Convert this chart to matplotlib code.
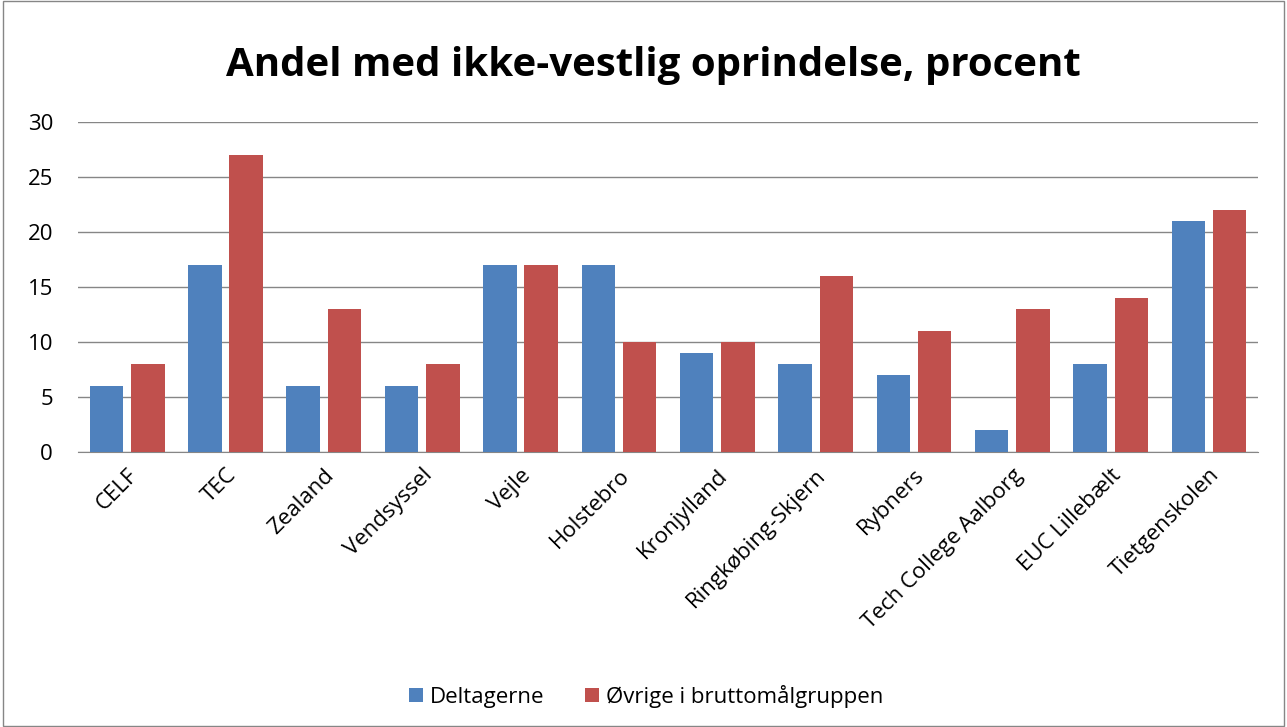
import numpy as np
import matplotlib.pyplot as plt
from matplotlib.patches import Rectangle

skoler = ['CELF', 'TEC', 'Zealand', 'Vendsyssel', 'Vejle', 'Holstebro', 'Kronjylland',
          'Ringkøbing-Skjern', 'Rybners', 'Tech College Aalborg', 'EUC Lillebælt', 'Tietgenskolen']
deltagerne = [6, 17, 6, 6, 17, 17, 9, 8, 7, 2, 8, 21]
oevrige = [8, 27, 13, 8, 17, 10, 10, 16, 11, 13, 14, 22]

plt.rcParams['font.family'] = ['Open Sans', 'DejaVu Sans']

fig = plt.figure(figsize=(12.87, 7.27), dpi=100)
ax = fig.add_axes([0.0606, 0.378, 0.917, 0.454])

x = np.arange(len(skoler))
ax.bar(x - 0.21, deltagerne, width=0.34, color='#4F81BD', label='Deltagerne', zorder=3)
ax.bar(x + 0.21, oevrige, width=0.34, color='#C0504D', label='Øvrige i bruttomålgruppen', zorder=3)

ax.set_xlim(-0.5, len(skoler) - 0.5)
ax.set_ylim(0, 30)
ax.set_yticks(range(0, 31, 5))
ax.grid(axis='y', color='#868686', linewidth=1, zorder=0)
for s in ['top', 'right', 'left']:
    ax.spines[s].set_visible(False)
ax.spines['bottom'].set_color('#868686')
ax.tick_params(axis='y', length=0, labelsize=16, pad=18)
ax.tick_params(axis='x', length=0, labelsize=16, pad=9)
ax.set_xticks(x)
ax.set_xticklabels(skoler, rotation=45, ha='right', rotation_mode='anchor')

fig.text(0.508, 0.91, 'Andel med ikke-vestlig oprindelse, procent', fontsize=29,
         fontweight='bold', ha='center', va='center')

fig.legend(loc='center', bbox_to_anchor=(0.502, 0.042), ncol=2, frameon=False, fontsize=16,
           handlelength=0.64, handleheight=0.64, columnspacing=1.8, handletextpad=0.32)

fig.patches.append(Rectangle((0.002, 0.002), 0.996, 0.996, transform=fig.transFigure,
                             fill=False, edgecolor='#868686', linewidth=1))

fig.savefig('out.png', dpi=100)
